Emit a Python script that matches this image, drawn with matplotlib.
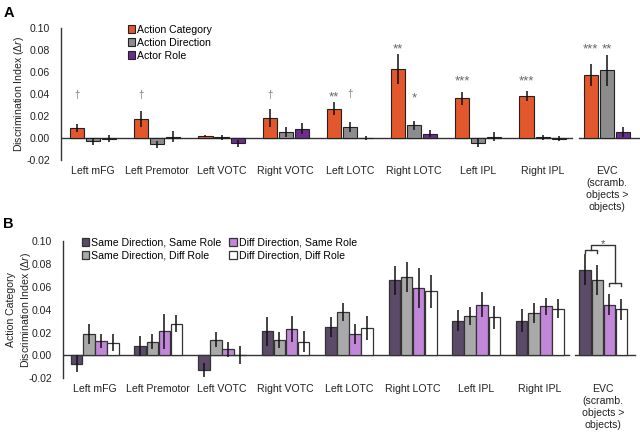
import matplotlib

matplotlib.use("Agg", force=True)
import matplotlib.pyplot as plt
import numpy as np

plt.rcParams["font.family"] = ["Liberation Sans", "DejaVu Sans"]
plt.rcParams["mathtext.fontset"] = "custom"
plt.rcParams["mathtext.rm"] = "Liberation Sans"
plt.rcParams["mathtext.it"] = "Liberation Sans:italic"

regions = ["Left mFG", "Left Premotor", "Left VOTC", "Right VOTC", "Left LOTC",
           "Right LOTC", "Left IPL", "Right IPL", "EVC\n(scramb.\nobjects >\nobjects)"]

# panel A
a_names = ["Action Category", "Action Direction", "Actor Role"]
a_colors = ["#E2572B", "#8C8C8C", "#6B2E8C"]
a_category = [0.0091, 0.0173, 0.0018, 0.0180, 0.0267, 0.0627, 0.0360, 0.0380, 0.0567]
a_category_err = [0.004, 0.007, 0.001, 0.008, 0.0056, 0.0136, 0.006, 0.0045, 0.010]
a_direction = [-0.003, -0.0057, 0.0005, 0.0055, 0.0100, 0.0115, -0.0042, 0.0005, 0.0615]
a_direction_err = [0.003, 0.003, 0.002, 0.0045, 0.0045, 0.004, 0.004, 0.002, 0.014]
a_role = [-0.0005, 0.001, -0.005, 0.0082, 0.0, 0.004, 0.001, -0.0005, 0.0052]
a_role_err = [0.003, 0.005, 0.003, 0.005, 0.002, 0.003, 0.004, 0.002, 0.0045]
# (region, bar, y, mark)
a_sig = [(0, 0, 0.039, "†"), (1, 0, 0.039, "†"), (3, 0, 0.039, "†"),
         (4, 0, 0.040, "**"), (4, 1, 0.040, "†"),
         (5, 0, 0.083, "**"), (5, 1, 0.039, "*"),
         (6, 0, 0.0545, "***"), (7, 0, 0.0545, "***"),
         (8, 0, 0.083, "***"), (8, 1, 0.083, "**")]

# panel B
b_names = ["Same Direction, Same Role", "Same Direction, Diff Role",
           "Diff Direction, Same Role", "Diff Direction, Diff Role"]
b_colors = ["#5B4A68", "#A9A9A9", "#C287D8", "#FFFFFF"]
b_same_same = [-0.0073, 0.0079, -0.013, 0.021, 0.0246, 0.0655, 0.0304, 0.0304, 0.0749]
b_same_same_err = [0.0073, 0.0088, 0.006, 0.0126, 0.0088, 0.0129, 0.0092, 0.0102, 0.0137]
b_same_diff = [0.019, 0.012, 0.0137, 0.0135, 0.038, 0.0687, 0.0345, 0.0368, 0.066]
b_same_diff_err = [0.0088, 0.0066, 0.0066, 0.0067, 0.0076, 0.013, 0.008, 0.0088, 0.013]
b_diff_same = [0.0129, 0.021, 0.0053, 0.023, 0.0187, 0.059, 0.0444, 0.043, 0.0444]
b_diff_same_err = [0.006, 0.015, 0.0063, 0.0113, 0.0085, 0.0175, 0.0107, 0.0075, 0.009]
b_diff_diff = [0.011, 0.0278, 0.0005, 0.012, 0.024, 0.056, 0.0333, 0.041, 0.0404]
b_diff_diff_err = [0.0073, 0.0076, 0.0077, 0.0092, 0.0104, 0.0146, 0.0098, 0.0083, 0.0092]

yticks = [-0.02, 0.0, 0.02, 0.04, 0.06, 0.08, 0.10]
axis_col = "#333333"
fs = 7.6


def style_axes(ax):
    ax.set_xlim(-0.5, 8.5)
    ax.set_ylim(-0.02, 0.10)
    for side in ["top", "right", "bottom"]:
        ax.spines[side].set_visible(False)
    ax.spines["left"].set_color(axis_col)
    ax.spines["left"].set_linewidth(1.0)
    ax.set_yticks(yticks)
    ax.set_yticklabels([f"{t:.2f}" for t in yticks])
    ax.set_xticks(np.arange(len(regions)))
    ax.set_xticklabels(regions, linespacing=1.25)
    ax.tick_params(axis="y", length=0, pad=8, labelsize=fs, colors="#222222")
    ax.tick_params(axis="x", length=0, pad=4, labelsize=fs, colors="#222222")
    for lab in ax.get_xticklabels():
        lab.set_verticalalignment("top")
    # broken baseline at zero, separate segment for EVC
    ax.plot([-0.5, 7.46], [0, 0], color=axis_col, lw=1.0, zorder=1)
    ax.plot([7.56, 8.5], [0, 0], color=axis_col, lw=1.0, zorder=1, clip_on=False)


fig = plt.figure(figsize=(6.4, 4.32), dpi=100)

# ---- panel A
axA = fig.add_axes([0.0953, 0.6296, 0.903, 0.3063])
style_axes(axA)
x = np.arange(len(regions))
a_vals = [a_category, a_direction, a_role]
a_errs = [a_category_err, a_direction_err, a_role_err]
a_step, a_width = 0.25, 0.22
for i, (vals, errs) in enumerate(zip(a_vals, a_errs)):
    xs = x + (i - 1) * a_step
    axA.bar(xs, vals, width=a_width, color=a_colors[i], edgecolor="#222222",
            linewidth=0.8, label=a_names[i], zorder=2)
    axA.errorbar(xs, vals, yerr=errs, fmt="none", ecolor="#111111",
                 elinewidth=1.1, capsize=0, zorder=3)
for reg, bar, yv, mark in a_sig:
    if mark == "†":
        axA.text(reg + (bar - 1) * a_step, yv, mark, ha="center", va="center",
                 fontsize=7, color="#777777")
    else:
        axA.text(reg + (bar - 1) * a_step, yv - 0.003, mark, ha="center", va="center",
                 fontsize=9.5, color="#666666")
axA.set_ylabel(r"Discrimination Index ($\Delta r$)", fontsize=fs, color="#222222")
axA.yaxis.set_label_coords(-0.061, 0.5)
axA.legend(loc="upper left", bbox_to_anchor=(0.108, 1.055), frameon=False,
           fontsize=fs, handlelength=0.72, handleheight=0.72,
           handletextpad=0.15, labelspacing=0.28, borderaxespad=0)

# ---- panel B
axB = fig.add_axes([0.0984, 0.1243, 0.894, 0.3178])
style_axes(axB)
b_vals = [b_same_same, b_same_diff, b_diff_same, b_diff_diff]
b_errs = [b_same_same_err, b_same_diff_err, b_diff_same_err, b_diff_diff_err]
b_step, b_width = 0.19, 0.182
for i, (vals, errs) in enumerate(zip(b_vals, b_errs)):
    xs = x + (i - 1.5) * b_step
    axB.bar(xs, vals, width=b_width, color=b_colors[i], edgecolor="#333333",
            linewidth=0.9, label=b_names[i], zorder=2)
    axB.errorbar(xs, vals, yerr=errs, fmt="none", ecolor="#111111",
                 elinewidth=1.1, capsize=0, zorder=3)
axB.set_ylabel("Action Category\n" + r"Discrimination Index ($\Delta r$)",
               fontsize=fs, color="#222222", linespacing=1.3)
axB.yaxis.set_label_coords(-0.053, 0.5)
axB.legend(loc="upper left", bbox_to_anchor=(0.025, 1.055), frameon=False, ncol=2,
           fontsize=fs, handlelength=0.72, handleheight=0.72,
           handletextpad=0.15, labelspacing=0.28, columnspacing=0.8, borderaxespad=0)

# EVC comparison bracket
evc = 8
l0, l1 = evc - 1.5 * b_step, evc - 0.5 * b_step
r0, r1 = evc + 0.5 * b_step, evc + 1.5 * b_step
tick = 0.0025
y_left, y_right, y_top = 0.092, 0.063, 0.0965
lc = dict(color="#333333", lw=1.0, clip_on=False, zorder=4)
axB.plot([l0, l0, l1, l1], [y_left - tick, y_left, y_left, y_left - tick], **lc)
axB.plot([r0, r0, r1, r1], [y_right - tick, y_right, y_right, y_right - tick], **lc)
lm, rm = (l0 + l1) / 2, (r0 + r1) / 2
axB.plot([lm, lm, rm, rm], [y_left, y_top, y_top, y_right], **lc)
axB.text((lm + rm) / 2, y_top + 0.0005, "*", ha="center", va="center",
         fontsize=8, color="#555555")

fig.text(0.005, 0.985, "A", fontsize=10.5, fontweight="bold", va="top", ha="left")
fig.text(0.005, 0.497, "B", fontsize=10.5, fontweight="bold", va="top", ha="left")

fig.savefig("out.png", dpi=100)
plt.close(fig)
